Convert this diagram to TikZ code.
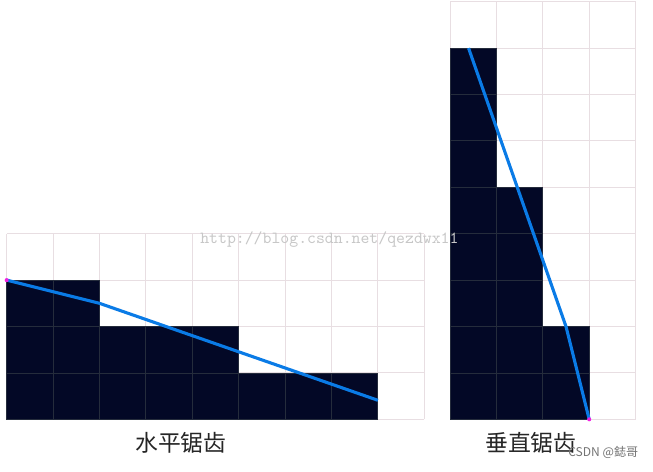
\documentclass[tikz,border=0pt]{standalone}
\usepackage{fontspec}
\usepackage{xcolor}
\newfontfamily\cjk{Noto Sans CJK SC}
\definecolor{gridpink}{HTML}{E8DEE2}
\definecolor{pixnavy}{HTML}{030826}
\definecolor{pixline}{HTML}{252C3C}
\definecolor{edgeblue}{HTML}{0A7BE6}
\definecolor{dotpink}{HTML}{F020E0}

\begin{document}
\begin{tikzpicture}[
    gridline/.style={draw=gridpink, line width=0.6pt},
    pixel/.style={fill=pixnavy, draw=pixline, line width=0.5pt},
    edgeline/.style={draw=edgeblue, line width=1.9pt},
    enddot/.style={circle, fill=dotpink, inner sep=0pt, minimum size=2.5pt},
    caption/.style={font=\cjk\fontsize{14}{16}\selectfont, text=black!85},
    watermark/.style={font=\ttfamily\fontsize{10.4}{12}\selectfont, text=black!22}]
    \useasboundingbox (0,0) rectangle (14.073,10.151);

    % Horizontal jaggies - 9 x 4 grid
    \begin{scope}[shift={(0.144,1.114)}]
        \draw[gridline] (0,0) grid (9,4);
        \foreach \h [count=\i from 0] in {3,3,2,2,2,1,1,1}
            \foreach \j in {1,...,\h}
                \path[pixel] (\i,\j-1) rectangle ++(1,1);
        \coordinate (hstart) at (0,3);
        \coordinate (hbend) at (2,2.5);
        \coordinate (hend) at (8,0.41);
        \draw[edgeline] (hstart) -- (hbend) -- (hend);
        \node[enddot] (hdot) at (hstart) {};
    \end{scope}

    % Vertical jaggies - 4 x 9 grid
    \begin{scope}[shift={(9.698,1.114)}]
        \draw[gridline] (0,0) grid (4,9);
        \foreach \h [count=\i from 0] in {8,5,2}
            \foreach \j in {1,...,\h}
                \path[pixel] (\i,\j-1) rectangle ++(1,1);
        \coordinate (vstart) at (0.4,8);
        \coordinate (vbend) at (2.5,2);
        \coordinate (vend) at (3,0);
        \draw[edgeline] (vstart) -- (vbend) -- (vend);
        \node[enddot] (vdot) at (vend) {};
    \end{scope}

    % Captions
    \node[caption] (hlabel) at (3.90,0.60) {水平锯齿};
    \node[caption] (vlabel) at (11.44,0.60) {垂直锯齿};

    % Watermarks
    \node[watermark, anchor=west, inner sep=0pt] (wmark) at (4.31,4.98) {http://blog.csdn.net/qezdwx11};
    \node[font=\cjk\fontsize{7.4}{8}\selectfont, text=black!55] (csdn) at (13.0,0.39) {CSDN @鋕哥};
\end{tikzpicture}
\end{document}
